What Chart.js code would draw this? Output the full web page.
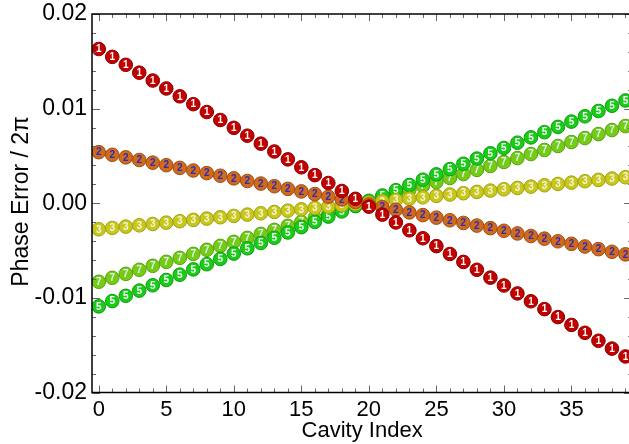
<!DOCTYPE html>
<html>
<head>
<meta charset="utf-8">
<script src="https://cdn.jsdelivr.net/npm/chart.js@4"></script>
<style>
html,body{margin:0;padding:0;background:#fff;overflow:hidden}
#wrap{width:640px;height:444px}
</style>
</head>
<body>
<div id="wrap"><canvas id="c" width="640" height="444"></canvas></div>
<script>
// cavity index 0..39
const cavity=[0,1,2,3,4,5,6,7,8,9,10,11,12,13,14,15,16,17,18,19,20,21,22,23,24,25,26,27,28,29,30,31,32,33,34,35,36,37,38,39];

const mode1=[0.01630,0.01547,0.01463,0.01380,0.01297,0.01213,0.01130,0.01047,0.00964,0.00880,
  0.00797,0.00714,0.00630,0.00547,0.00464,0.00380,0.00297,0.00214,0.00130,0.00047,
  -0.00036,-0.00120,-0.00203,-0.00286,-0.00370,-0.00453,-0.00536,-0.00620,-0.00703,-0.00786,
  -0.00869,-0.00953,-0.01036,-0.01119,-0.01203,-0.01286,-0.01369,-0.01453,-0.01536,-0.01619];
const mode2=[0.00540,0.00512,0.00485,0.00457,0.00429,0.00402,0.00374,0.00346,0.00318,0.00291,
  0.00263,0.00235,0.00208,0.00180,0.00152,0.00125,0.00097,0.00069,0.00041,0.00014,
  -0.00014,-0.00042,-0.00069,-0.00097,-0.00125,-0.00152,-0.00180,-0.00208,-0.00236,-0.00263,
  -0.00291,-0.00319,-0.00346,-0.00374,-0.00402,-0.00429,-0.00457,-0.00485,-0.00513,-0.00540];
const mode3=[-0.00275,-0.00261,-0.00247,-0.00233,-0.00219,-0.00205,-0.00190,-0.00176,-0.00162,-0.00148,
  -0.00134,-0.00120,-0.00106,-0.00092,-0.00078,-0.00064,-0.00049,-0.00035,-0.00021,-0.00007,
  0.00007,0.00021,0.00035,0.00049,0.00063,0.00078,0.00092,0.00106,0.00120,0.00134,
  0.00148,0.00162,0.00176,0.00190,0.00204,0.00218,0.00233,0.00247,0.00261,0.00275];
const mode5=[-0.01090,-0.01034,-0.00978,-0.00923,-0.00867,-0.00811,-0.00755,-0.00699,-0.00644,-0.00588,
  -0.00532,-0.00476,-0.00420,-0.00365,-0.00309,-0.00253,-0.00197,-0.00141,-0.00086,-0.00030,
  0.00026,0.00082,0.00138,0.00193,0.00249,0.00305,0.00361,0.00417,0.00472,0.00528,
  0.00584,0.00640,0.00696,0.00751,0.00807,0.00863,0.00919,0.00975,0.01030,0.01086];
const mode7=[-0.00830,-0.00788,-0.00746,-0.00703,-0.00661,-0.00619,-0.00577,-0.00535,-0.00492,-0.00450,
  -0.00408,-0.00366,-0.00324,-0.00281,-0.00239,-0.00197,-0.00155,-0.00113,-0.00070,-0.00028,
  0.00014,0.00056,0.00098,0.00141,0.00183,0.00225,0.00267,0.00309,0.00352,0.00394,
  0.00436,0.00478,0.00520,0.00563,0.00605,0.00647,0.00689,0.00731,0.00774,0.00816];

const modeNames=['1','2','3','5','7'];
const modeData=[mode1,mode2,mode3,mode5,mode7];
const fills=['#c20000','#d06a1c','#c8c81c','#18cc18','#74cc14'];
const borders=['#8a0000','#a04c10','#a0a010','#0c9c0c','#58a00c'];
const digitCol=['#ffffff','#2c2cb8','#f4f4e0','#ffffff','#e0f4ff'];

const xTicks=[0,5,10,15,20,25,30,35];
const yTicks=[-0.02,-0.01,0,0.01,0.02];
const yTitle='Phase Error / 2π';

const FONT='"Liberation Sans", Arial, sans-serif';

// inward ticks on all four sides + frame + y title
const framePlugin={
  id:'frame',
  afterDatasetsDraw(chart){
    const {ctx,chartArea:a,scales:{x,y}}=chart;
    ctx.save();
    ctx.strokeStyle='#666';ctx.lineWidth=1;
    for(let v=0;v<=39;v++){
      const px=Math.round(x.getPixelForValue(v))+0.5;
      const L=v%5===0?7:4;
      ctx.beginPath();ctx.moveTo(px,a.bottom);ctx.lineTo(px,a.bottom-L);ctx.stroke();
      ctx.beginPath();ctx.moveTo(px,a.top);ctx.lineTo(px,a.top+L);ctx.stroke();
    }
    for(let i=-10;i<=10;i++){
      const v=i*0.002;
      const py=Math.round(y.getPixelForValue(v))+0.5;
      const L=i%5===0?8:4;
      ctx.beginPath();ctx.moveTo(a.left,py);ctx.lineTo(a.left+L,py);ctx.stroke();
      ctx.beginPath();ctx.moveTo(a.right,py);ctx.lineTo(a.right-L,py);ctx.stroke();
    }
    ctx.strokeStyle='#000';ctx.lineWidth=1.5;
    ctx.strokeRect(a.left,a.top,a.right-a.left,a.bottom-a.top);
    // y axis title
    ctx.translate(22,y.getPixelForValue(0.0002));
    ctx.rotate(-Math.PI/2);
    ctx.font='23px '+FONT;ctx.fillStyle='#000';
    ctx.textAlign='center';ctx.textBaseline='middle';
    ctx.fillText(yTitle,0,0);
    ctx.restore();
  }
};

// digit inside each marker
const digitPlugin={
  id:'digits',
  afterDatasetDraw(chart,args){
    const i=args.index;
    const meta=args.meta;
    const ctx=chart.ctx;
    ctx.save();
    ctx.font='bold 10px '+FONT;
    ctx.textAlign='center';ctx.textBaseline='middle';
    ctx.fillStyle=digitCol[i];
    meta.data.forEach(p=>{ctx.fillText(modeNames[i],p.x,p.y+0.5);});
    ctx.restore();
  }
};

const datasets=modeData.map((d,i)=>({
  label:'mode '+modeNames[i],
  data:cavity.map((c,k)=>({x:c,y:d[k]})),
  showLine:false,
  pointRadius:6.8,
  pointBorderWidth:1,
  pointBackgroundColor:fills[i],
  pointBorderColor:borders[i],
  order:i
}));

new Chart(document.getElementById('c'),{
  type:'scatter',
  data:{datasets},
  options:{
    responsive:false,animation:false,
    layout:{padding:{left:0,top:14,right:7,bottom:0}},
    plugins:{legend:{display:false},tooltip:{enabled:false}},
    scales:{
      x:{
        type:'linear',min:-0.5,max:39.5,
        afterBuildTicks:s=>{s.ticks=xTicks.map(v=>({value:v}));},
        afterFit:s=>{s.height=51.5;s.paddingLeft=0;s.paddingRight=0;},
        grid:{display:false,drawTicks:false},
        border:{display:false},
        ticks:{color:'#000',font:{family:FONT,size:22},padding:4,maxRotation:0,autoSkip:false},
        title:{display:true,text:'Cavity Index',color:'#000',font:{family:FONT,size:22},padding:{top:0,bottom:0}}
      },
      y:{
        type:'linear',min:-0.02,max:0.02,
        afterBuildTicks:s=>{s.ticks=yTicks.map(v=>({value:v}));},
        afterFit:s=>{s.width=92;s.paddingTop=0;s.paddingBottom=0;},
        grid:{display:false,drawTicks:false},
        border:{display:false},
        ticks:{color:'#000',font:{family:FONT,size:23},padding:5,callback:v=>Number(v).toFixed(2)},
        title:{display:false}
      }
    }
  },
  plugins:[framePlugin,digitPlugin]
});
</script>
</body>
</html>
